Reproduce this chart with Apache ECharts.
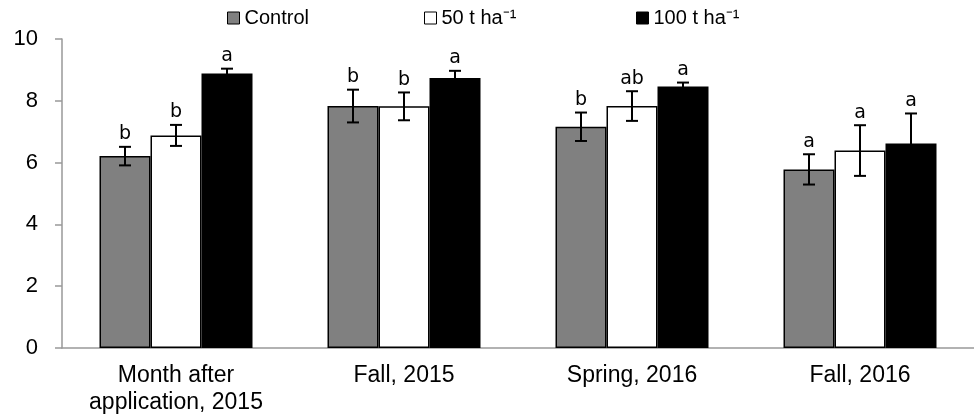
<!DOCTYPE html>
<html>
<head>
<meta charset="utf-8">
<script src="https://cdn.jsdelivr.net/npm/echarts@6/dist/echarts.min.js"></script>
<style>
  html, body { margin: 0; padding: 0; background: #fff; }
  #chart { width: 974px; height: 419px; }
</style>
</head>
<body>
<div id="chart"></div>
<script>
var categories = ['Month after\napplication, 2015', 'Fall, 2015', 'Spring, 2016', 'Fall, 2016'];
var seriesNames = ['Control', '50 t ha\u207B\u00B9', '100 t ha\u207B\u00B9'];

var control = [6.21, 7.83, 7.16, 5.78];
var controlErr = [0.30, 0.53, 0.46, 0.49];
var controlLetters = ['b', 'b', 'b', 'a'];

var t50 = [6.88, 7.82, 7.83, 6.39];
var t50Err = [0.34, 0.45, 0.48, 0.82];
var t50Letters = ['b', 'b', 'ab', 'a'];

var t100 = [8.88, 8.74, 8.46, 6.62];
var t100Err = [0.16, 0.23, 0.13, 0.97];
var t100Letters = ['a', 'a', 'a', 'a'];

var yTicks = [0, 2, 4, 6, 8, 10];

var BAR_W = 51;
var colors = ['#808080', '#ffffff', '#000000'];
var values = [control, t50, t100];
var errs = [controlErr, t50Err, t100Err];
var letters = [controlLetters, t50Letters, t100Letters];

var chart = echarts.init(document.getElementById('chart'));

function errorRenderer(offset) {
    return function (params, api) {
        var cat = api.value(0);
        var v = api.value(1);
        var e = api.value(2);
        var letter = letters[params.seriesIndex - 3][params.dataIndex];
        var top = api.coord([cat, v + e]);
        var bot = api.coord([cat, v - e]);
        var x = top[0] + offset * BAR_W;
        var cap = 6;
        var st = { stroke: '#000', lineWidth: 2 };
        return {
            type: 'group',
            children: [
                { type: 'line', shape: { x1: x, y1: top[1], x2: x, y2: bot[1] }, style: st },
                { type: 'line', shape: { x1: x - cap, y1: top[1], x2: x + cap, y2: top[1] }, style: st },
                { type: 'line', shape: { x1: x - cap, y1: bot[1], x2: x + cap, y2: bot[1] }, style: st },
                {
                    type: 'text',
                    style: {
                        x: x, y: top[1] - 3,
                        text: letter,
                        fill: '#000',
                        font: '19px "DejaVu Sans"',
                        align: 'center',
                        verticalAlign: 'bottom'
                    }
                }
            ]
        };
    };
}

var series = [];
for (var i = 0; i < 3; i++) {
    series.push({
        name: seriesNames[i],
        type: 'bar',
        barWidth: BAR_W,
        barGap: '0%',
        itemStyle: { color: colors[i], borderColor: '#000', borderWidth: 1.5 },
        data: values[i]
    });
}
for (var j = 0; j < 3; j++) {
    series.push({
        type: 'custom',
        z: 5,
        renderItem: errorRenderer(j - 1),
        data: values[j].map(function (v, k) { return [k, v, errs[j][k]]; })
    });
}

function legendAt(name, left) {
    return {
        data: [name],
        left: left,
        top: 8,
        padding: 0,
        itemWidth: 12,
        itemHeight: 12,
        icon: 'rect',
        itemStyle: { borderColor: '#000', borderWidth: 1 },
        textStyle: { fontFamily: 'Liberation Sans', fontSize: 20, color: '#000' },
        selectedMode: false
    };
}

chart.setOption({
    animation: false,
    legend: [
        legendAt(seriesNames[0], 227),
        legendAt(seriesNames[1], 424),
        legendAt(seriesNames[2], 636)
    ],
    grid: { left: 62, top: 39, width: 920, height: 309 },
    xAxis: {
        type: 'category',
        data: categories,
        axisLine: { lineStyle: { color: '#999', width: 1.5 } },
        axisTick: { length: 6, lineStyle: { color: '#999', width: 1.5 } },
        axisLabel: {
            interval: 0,
            margin: 14,
            fontFamily: 'Liberation Sans',
            fontSize: 23,
            lineHeight: 27,
            color: '#000'
        }
    },
    yAxis: {
        type: 'value',
        min: yTicks[0],
        max: yTicks[yTicks.length - 1],
        interval: 2,
        splitLine: { show: false },
        axisLine: { show: true, lineStyle: { color: '#999', width: 1.5 } },
        axisTick: { show: true, length: 7, lineStyle: { color: '#999', width: 1.5 } },
        axisLabel: {
            margin: 24,
            fontFamily: 'Liberation Sans',
            fontSize: 22,
            color: '#000'
        }
    },
    series: series
});
</script>
</body>
</html>
